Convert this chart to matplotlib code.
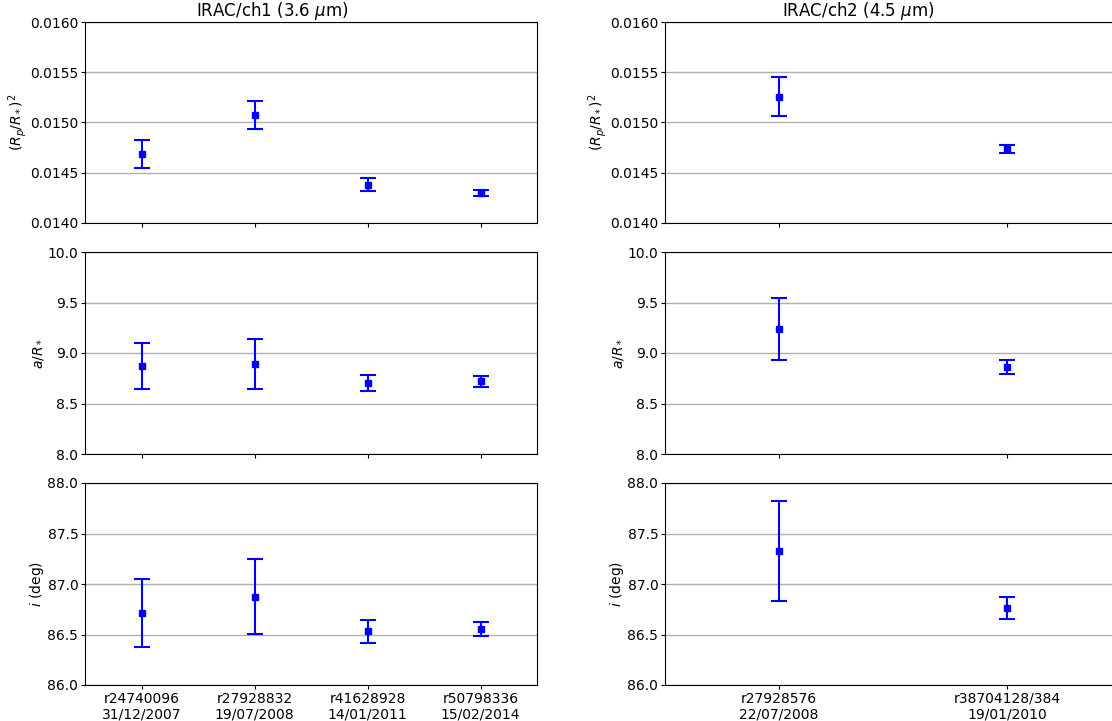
import numpy as np
import matplotlib
matplotlib.use('Agg')
import matplotlib.pyplot as plt

# IRAC/ch1 (3.6 um) fits
ch1_labels = ['r24740096\n31/12/2007', 'r27928832\n19/07/2008',
              'r41628928\n14/01/2011', 'r50798336\n15/02/2014']
ch1_depth = [0.01469, 0.015075, 0.014380, 0.014300]
ch1_depth_err = [0.000138, 0.000143, 0.000066, 0.000030]
ch1_aR = [8.87, 8.89, 8.70, 8.72]
ch1_aR_err = [0.23, 0.25, 0.08, 0.055]
ch1_inc = [86.715, 86.875, 86.53, 86.555]
ch1_inc_err = [0.335, 0.37, 0.11, 0.07]

# IRAC/ch2 (4.5 um) fits
ch2_labels = ['r27928576\n22/07/2008', 'r38704128/384\n19/01/2010']
ch2_depth = [0.015255, 0.014737]
ch2_depth_err = [0.000194, 0.000040]
ch2_aR = [9.237, 8.862]
ch2_aR_err = [0.303, 0.07]
ch2_inc = [87.325, 86.763]
ch2_inc_err = [0.492, 0.108]

ylabels = [r'$(R_p/R_*)^2$', r'$a/R_*$', r'$i$ (deg)']
ylims = [(0.014, 0.016), (8.0, 10.0), (86.0, 88.0)]
yticks = [np.arange(0.014, 0.01601, 0.0005), np.arange(8.0, 10.01, 0.5),
          np.arange(86.0, 88.01, 0.5)]
yfmt = ['%.4f', '%.1f', '%.1f']

fig = plt.figure(figsize=(11.12, 7.21), dpi=100)

W, H = 1112., 721.
rows = [(22, 223), (252, 454), (483, 685)]
cols = [(85, 537), (665, 1121)]
title_x = [0.414, 0.425]

channels = [
    (ch1_labels, [(ch1_depth, ch1_depth_err), (ch1_aR, ch1_aR_err), (ch1_inc, ch1_inc_err)],
     r'IRAC/ch1 (3.6 $\mu$m)'),
    (ch2_labels, [(ch2_depth, ch2_depth_err), (ch2_aR, ch2_aR_err), (ch2_inc, ch2_inc_err)],
     r'IRAC/ch2 (4.5 $\mu$m)'),
]

for c, (labels, series, title) in enumerate(channels):
    x = np.arange(len(labels))
    x0, x1 = cols[c]
    for r, (vals, errs) in enumerate(series):
        y0, y1 = rows[r]
        ax = fig.add_axes([x0 / W, 1 - y1 / H, (x1 - x0) / W, (y1 - y0) / H])
        ax.errorbar(x, vals, yerr=errs, fmt='s', color='b', ms=4,
                    capsize=6, elinewidth=1.5, capthick=1.5)
        ax.set_xlim(-0.5, len(labels) - 0.5)
        ax.set_ylim(*ylims[r])
        ax.set_yticks(yticks[r])
        ax.set_yticklabels([yfmt[r] % v for v in yticks[r]], fontsize=10)
        ax.set_ylabel(ylabels[r], fontsize=10, labelpad=1)
        ax.tick_params(length=3, pad=1.8)
        ax.yaxis.grid(True, color='#b0b0b0', lw=1)
        ax.set_axisbelow(True)
        ax.set_xticks(x)
        if r == 2:
            ax.set_xticklabels(labels, fontsize=10)
        else:
            ax.set_xticklabels([])
        if r == 0:
            ax.set_title(title, fontsize=12, pad=3, x=title_x[c])

fig.savefig('out.png', dpi=100)
